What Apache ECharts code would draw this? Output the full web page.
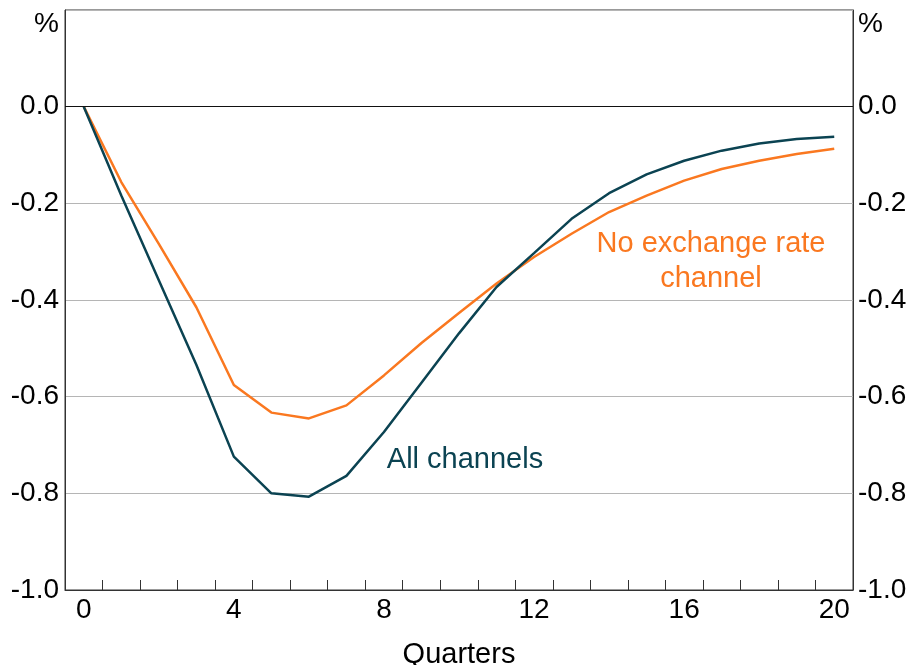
<!DOCTYPE html>
<html>
<head>
<meta charset="utf-8">
<script src="https://cdn.jsdelivr.net/npm/echarts@6/dist/echarts.min.js"></script>
<style>
    html, body { margin: 0; padding: 0; background: #fff; }
    #chart-pane { width: 911px; height: 665px; }
</style>
</head>
<body>
<div id="chart-pane"></div>
<script>
    "use strict";

    // quarters after the shock
    var quarters = ['0','1','2','3','4','5','6','7','8','9','10',
        '11','12','13','14','15','16','17','18','19','20'];

    // response, %
    var allChannels = [0, -0.184, -0.359, -0.534, -0.724, -0.800, -0.807, -0.764, -0.673, -0.571, -0.469,
        -0.373, -0.303, -0.232, -0.179, -0.140, -0.112, -0.091, -0.076, -0.067, -0.062];
    var noExchangeRate = [0, -0.156, -0.284, -0.415, -0.576, -0.633, -0.645, -0.618, -0.556, -0.489, -0.427,
        -0.366, -0.311, -0.263, -0.218, -0.184, -0.153, -0.129, -0.112, -0.098, -0.087];

    var seriesNames = ['All channels', 'No exchange rate channel'];
    var teal = '#0b4352';
    var orange = '#fa7820';
    var font = 'Liberation Sans, Arial, sans-serif';

    function tickLabel(v) {
        if (v > 0.1) return '';
        return v.toFixed(1);
    }

    var chartDom = document.getElementById('chart-pane');
    var chart = echarts.init(chartDom);
    var option = {
        animation: false,
        grid: {
            left: 65, right: 58, top: 10, bottom: 75,
            outerBoundsMode: 'none',
            containLabel: false,
            show: true,
            borderColor: '#333',
            borderWidth: 1
        },
        xAxis: {
            type: 'category',
            data: quarters,
            boundaryGap: true,
            name: 'Quarters',
            nameLocation: 'middle',
            nameGap: 50,
            nameTextStyle: { fontFamily: font, fontSize: 29, color: '#000' },
            axisLine: { onZero: false, lineStyle: { color: '#333', width: 1 } },
            axisTick: { show: true, inside: true, length: 10, interval: 0, lineStyle: { color: '#333' } },
            axisLabel: { interval: 3, margin: 6, fontFamily: font, fontSize: 28, color: '#000' },
            splitLine: { show: false }
        },
        yAxis: [
            {
                type: 'value',
                min: -1.0, max: 0.2, interval: 0.2,
                position: 'left',
                axisLine: { show: true, lineStyle: { color: '#333' } },
                axisTick: { show: false },
                axisLabel: { margin: 6, fontFamily: font, fontSize: 28, color: '#000', formatter: tickLabel },
                splitLine: { show: true, lineStyle: { color: '#b5b5b5', width: 1 } }
            },
            {
                type: 'value',
                min: -1.0, max: 0.2, interval: 0.2,
                position: 'right',
                axisLine: { show: true, lineStyle: { color: '#333' } },
                axisTick: { show: false },
                axisLabel: { margin: 5, fontFamily: font, fontSize: 28, color: '#000', formatter: tickLabel },
                splitLine: { show: false }
            }
        ],
        series: [
            {
                name: seriesNames[1],
                type: 'line',
                data: noExchangeRate,
                symbol: 'none',
                z: 3,
                lineStyle: { color: orange, width: 2.5 },
                markLine: {
                    silent: true,
                    symbol: 'none',
                    label: { show: false },
                    lineStyle: { color: '#111', width: 1.2, type: 'solid' },
                    data: [{ yAxis: 0 }]
                }
            },
            {
                name: seriesNames[0],
                type: 'line',
                data: allChannels,
                symbol: 'none',
                z: 4,
                lineStyle: { color: teal, width: 2.5 }
            }
        ],
        graphic: [
            { type: 'text', x: 59, y: 10, style: { text: '%', font: '28px ' + font, fill: '#000', align: 'right' } },
            { type: 'text', x: 858, y: 10, style: { text: '%', font: '28px ' + font, fill: '#000', align: 'left' } },
            { type: 'text', x: 711, y: 226, style: { text: 'No exchange rate\nchannel', font: '29px ' + font,
                fill: orange, align: 'center', verticalAlign: 'top', lineHeight: 35 } },
            { type: 'text', x: 465, y: 445, style: { text: 'All channels', font: '29px ' + font,
                fill: teal, align: 'center', verticalAlign: 'top' } }
        ]
    };

    chart.setOption(option);
</script>
</body>
</html>
